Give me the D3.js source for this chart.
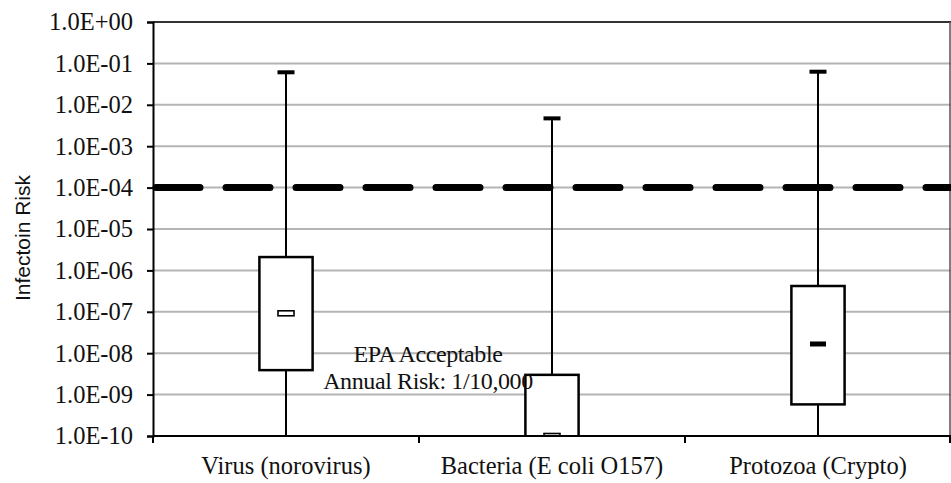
<!DOCTYPE html>
<html>
<head>
<meta charset="utf-8">
<script src="https://cdn.jsdelivr.net/npm/d3@7"></script>
<style>
  body { margin: 0; background: #fff; }
  text { font-family: "Liberation Serif", "Times New Roman", serif; fill: #111; }
</style>
</head>
<body>
<div id="chart"></div>
<script>
var categories = ["Virus (norovirus)", "Bacteria (E coli O157)", "Protozoa (Crypto)"];
var whiskerHigh = [6.1e-2, 4.7e-3, 6.3e-2];
var boxHigh = [2.1e-6, 3.0e-9, 4.2e-7];
var medians = [9.2e-8, 1.0e-10, 1.67e-8];
var boxLow = [3.9e-9, 1.0e-11, 5.8e-10];
var whiskerLow = [1.0e-12, 1.0e-12, 1.0e-12];
var hollowMedian = [true, true, false];
var yTicks = [1e0, 1e-1, 1e-2, 1e-3, 1e-4, 1e-5, 1e-6, 1e-7, 1e-8, 1e-9, 1e-10];
var tickLabels = ["1.0E+00", "1.0E-01", "1.0E-02", "1.0E-03", "1.0E-04", "1.0E-05",
                  "1.0E-06", "1.0E-07", "1.0E-08", "1.0E-09", "1.0E-10"];
var epaLimit = 1e-4;
var epaText = ["EPA Acceptable", "Annual Risk: 1/10,000"];

var w = 951, h = 483,
    p = {"top": 22, "right": 0, "left": 153, "bot": 47};

var data = categories.map(function(c, i){
  return {cat: c, hi: whiskerHigh[i], q3: boxHigh[i], med: medians[i], q1: boxLow[i], lo: whiskerLow[i], hollow: hollowMedian[i]};
});

var svg = d3.select("#chart").append("svg")
  .attr("width", w)
  .attr("height", h)

var x = d3.scaleBand()
  .domain(categories)
  .range([p.left, w - p.right])
  .padding(0)

var y = d3.scaleLog()
  .domain([1e-10, 1])
  .range([h - p.bot, p.top])

svg.append("defs").append("clipPath")
  .attr("id", "plotclip")
  .append("rect")
    .attr("x", p.left)
    .attr("y", p.top)
    .attr("width", w - p.right - p.left)
    .attr("height", h - p.bot - p.top)

// gridlines
svg.append("g")
  .selectAll("line")
  .data(yTicks.slice(1, -1))
  .enter()
    .append("line")
      .attr("x1", p.left)
      .attr("x2", w - p.right)
      .attr("y1", function(d){ return y(d) })
      .attr("y2", function(d){ return y(d) })
      .style("stroke", "#b4b4b4")
      .style("stroke-width", 2)

// top + right border
svg.append("line")
  .attr("x1", p.left).attr("x2", w - p.right)
  .attr("y1", y(1)).attr("y2", y(1))
  .style("stroke", "#333").style("stroke-width", 2)
svg.append("line")
  .attr("x1", w - p.right - 1).attr("x2", w - p.right - 1)
  .attr("y1", y(1)).attr("y2", y(1e-10))
  .style("stroke", "#555").style("stroke-width", 1.5)

// EPA line
svg.append("line")
  .attr("x1", p.left + 3)
  .attr("x2", w - p.right)
  .attr("y1", y(epaLimit))
  .attr("y2", y(epaLimit))
  .style("stroke", "#000")
  .style("stroke-width", 7)
  .style("stroke-linecap", "round")
  .style("stroke-dasharray", "44,26")

var plot = svg.append("g").attr("clip-path", "url(#plotclip)");
var bw = x.bandwidth() * 0.2;

var boxes = plot.selectAll(".box")
  .data(data)
  .enter()
    .append("g")
      .attr("class", "box")
      .attr("transform", function(d){ return "translate(" + (x(d.cat) + x.bandwidth() / 2) + ",0)" })

boxes.append("line")
  .attr("y1", function(d){ return y(d.hi) })
  .attr("y2", function(d){ return y(d.lo) })
  .style("stroke", "#000")
  .style("stroke-width", 2)

boxes.append("rect")
  .attr("x", -8.5)
  .attr("width", 17)
  .attr("y", function(d){ return y(d.hi) - 2 })
  .attr("height", 4)
  .style("fill", "#000")

boxes.append("rect")
  .attr("x", -bw / 2)
  .attr("width", bw)
  .attr("y", function(d){ return y(d.q3) })
  .attr("height", function(d){ return y(d.q1) - y(d.q3) })
  .style("fill", "#fff")
  .style("stroke", "#000")
  .style("stroke-width", 2.5)

boxes.append("rect")
  .attr("x", -8)
  .attr("width", 16)
  .attr("y", function(d){ return y(d.med) - 2.5 })
  .attr("height", 5)
  .style("fill", function(d){ return d.hollow ? "#fff" : "#000" })
  .style("stroke", "#000")
  .style("stroke-width", function(d){ return d.hollow ? 1.6 : 0 })

// y axis
var yAxis = d3.axisLeft(y)
  .tickValues(yTicks)
  .tickSize(6)
  .tickFormat(function(d, i){ return tickLabels[i] });

var ya = svg.append("g")
  .attr("transform", "translate(" + p.left + ",0)")
  .call(yAxis)
ya.select(".domain").style("stroke", "#000").style("stroke-width", 2)
ya.selectAll(".tick line").style("stroke", "#000").style("stroke-width", 2)
ya.selectAll("text")
  .attr("x", -20)
  .style("font-family", "Liberation Serif")
  .style("font-size", "24.5px")
  .style("fill", "#111")

// x axis
svg.append("line")
  .attr("x1", p.left).attr("x2", w - p.right)
  .attr("y1", y(1e-10)).attr("y2", y(1e-10))
  .style("stroke", "#000").style("stroke-width", 2)

var bounds = categories.map(function(c){ return x(c) }).concat([w - p.right - 1]);
svg.selectAll(".xtick")
  .data(bounds)
  .enter()
    .append("line")
      .attr("x1", function(d){ return d })
      .attr("x2", function(d){ return d })
      .attr("y1", y(1e-10))
      .attr("y2", y(1e-10) + 7)
      .style("stroke", "#000")
      .style("stroke-width", 2)

svg.selectAll(".xlabel")
  .data(categories)
  .enter()
    .append("text")
      .attr("x", function(d){ return x(d) + x.bandwidth() / 2 })
      .attr("y", 474)
      .style("text-anchor", "middle")
      .style("font-size", "24.5px")
      .text(function(d){ return d })

svg.append("text")
  .attr("transform", "translate(30," + 238 + ") rotate(-90)")
  .style("text-anchor", "middle")
  .style("font-family", "Liberation Sans, Arial, sans-serif")
  .style("font-size", "21px")
  .text("Infectoin Risk")

svg.selectAll(".epa")
  .data(epaText)
  .enter()
    .append("text")
      .attr("x", 428)
      .attr("y", function(d, i){ return 362 + i * 27 })
      .style("text-anchor", "middle")
      .style("font-size", "24px")
      .style("letter-spacing", "-0.4px")
      .text(function(d){ return d })
</script>
</body>
</html>
